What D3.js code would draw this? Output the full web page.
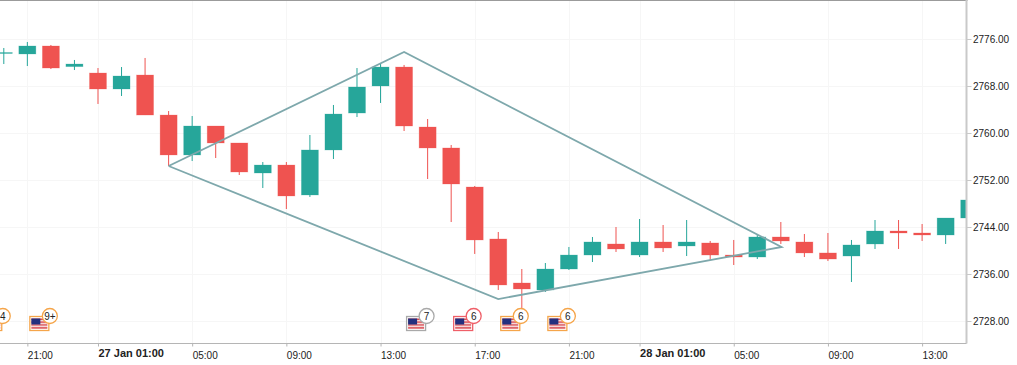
<!DOCTYPE html>
<html><head><meta charset="utf-8">
<script src="https://cdn.jsdelivr.net/npm/d3@7/dist/d3.min.js"></script>
<style>html,body{margin:0;padding:0;background:#fff;overflow:hidden}svg{display:block}text{font-family:"Liberation Sans",Arial,sans-serif}</style>
</head><body><svg id="c" width="1017" height="365"></svg>
<script>
// candle values, one per hourly bar (bar index = array position)
const opens  = [2773.6,2773.45,2774.81,2771.3,2770.21,2767.49,2769.87,2763.06,2756.26,2761.19,2758.30,2753.19,2754.55,2749.45,2757.11,2763.4,2768.0,2771.23,2761.02,2757.45,2750.81,2741.96,2734.47,2733.28,2736.85,2739.23,2741.11,2739.23,2741.45,2740.77,2741.28,2739.23,2738.89,2742.3,2741.45,2739.58,2739.06,2741.11,2743.32,2742.98,2742.64,2745.53];
const closes = [2773.7,2774.81,2771.06,2771.74,2767.49,2769.7,2763.06,2756.26,2761.19,2758.30,2753.36,2754.55,2749.28,2757.11,2763.23,2767.83,2771.23,2761.19,2757.45,2751.32,2741.79,2734.13,2733.45,2736.85,2739.23,2741.45,2740.26,2741.45,2740.43,2741.45,2739.23,2738.89,2742.3,2741.62,2739.58,2738.55,2740.94,2743.32,2742.98,2742.64,2745.53,2748.6];
const highs  = [2774.47,2775.49,2774.98,2772.43,2771.06,2771.23,2772.77,2763.74,2762.89,2761.19,2758.30,2755.06,2755.06,2759.66,2764.77,2771.06,2771.92,2771.58,2762.38,2757.96,2750.98,2743.15,2736.85,2737.87,2740.6,2742.3,2744.0,2745.36,2744.34,2745.19,2741.62,2741.79,2742.64,2744.85,2742.81,2742.98,2741.79,2745.19,2745.19,2744.51,2745.53,2748.6];
const lows   = [2771.74,2771.4,2770.89,2770.72,2764.94,2766.3,2763.06,2754.38,2755.23,2755.74,2752.85,2750.64,2747.06,2749.11,2755.57,2762.72,2765.11,2760.34,2752.17,2744.85,2739.41,2733.28,2729.87,2732.94,2736.68,2738.04,2739.75,2738.89,2739.75,2739.06,2738.38,2737.53,2738.55,2741.11,2738.89,2738.21,2734.64,2740.26,2740.26,2741.62,2741.11,2745.53];

// price and time axes
const priceTicks = [2776,2768,2760,2752,2744,2736,2728];
const timeIndex  = [1,4,8,12,16,20,24,27,31,35,39];
const timeLabels = ["21:00","27 Jan 01:00","05:00","09:00","13:00","17:00","21:00","28 Jan 01:00","05:00","09:00","13:00"];
const boldTimes  = ["27 Jan 01:00","28 Jan 01:00"];

// diamond drawing, anchored on bar index and price
const shapeIndex = [7,17,33.03,21,7];
const shapePrice = [2754.38,2773.79,2740.6,2731.74,2754.38];

// economic events
const eventIndex = [-1,1,17,19,21,23];
const eventLabel = ["4","9+","7","6","6","6"];
const eventKind  = ["mid","mid","low","high","mid","mid"];
const eventColor = {low:"#a9a9a9",mid:"#f5a54a",high:"#ef5f68"};

const UP="#26a69a", DOWN="#ef5350";
const W=1017,H=365,PW=966.5,PH=343.5;
const x=d3.scaleLinear().domain([0,41]).range([3.8,969.2]);
const y=d3.scaleLinear().domain([2728,2776]).range([321,39]);
const svg=d3.select("#c");
svg.append("defs").append("clipPath").attr("id","plot").append("rect").attr("width",PW).attr("height",PH);

// grid
const grid=svg.append("g").attr("stroke","#f6f6f6").attr("stroke-width",1);
grid.selectAll("line.h").data(priceTicks).join("line").attr("class","h")
  .attr("x1",0).attr("x2",PW).attr("y1",d=>Math.round(y(d))+.5).attr("y2",d=>Math.round(y(d))+.5);
grid.selectAll("line.v").data(timeIndex).join("line").attr("class","v")
  .attr("y1",0).attr("y2",PH).attr("x1",d=>Math.round(x(d))+.5).attr("x2",d=>Math.round(x(d))+.5);

const plot=svg.append("g").attr("clip-path","url(#plot)");

// candles
const bars=plot.selectAll("g.bar").data(opens.map((o,i)=>({i,o,c:closes[i],h:highs[i],l:lows[i]}))).join("g").attr("class","bar");
const col=d=>d.c>=d.o?UP:DOWN;
bars.append("line").attr("x1",d=>x(d.i)).attr("x2",d=>x(d.i)).attr("y1",d=>y(d.h)).attr("y2",d=>y(d.l))
  .attr("stroke",col).attr("stroke-width",1);
const bw=17;
bars.append("rect").attr("x",d=>x(d.i)-bw/2).attr("width",bw)
  .attr("y",d=>y(Math.max(d.o,d.c))).attr("height",d=>Math.max(1,Math.abs(y(d.o)-y(d.c)))).attr("fill",col)
  .attr("stroke",col).attr("stroke-opacity",.3).attr("stroke-width",.8);

// diamond
const line=d3.line().x(d=>x(d[0])).y(d=>y(d[1]));
plot.append("path").attr("d",line(shapeIndex.map((v,i)=>[v,shapePrice[i]])))
  .attr("fill","none").attr("stroke","#7ea8ac").attr("stroke-width",1.8).attr("stroke-linejoin","miter");

// event flags
const flagW=20,flagH=15,flagTop=y(2728)-5,dx=2;
const ev=plot.selectAll("g.ev").data(eventIndex.map((v,i)=>({v,t:eventLabel[i],k:eventColor[eventKind[i]]}))).join("g").attr("class","ev")
  .attr("transform",d=>`translate(${x(d.v)+dx},${flagTop})`);
ev.append("rect").attr("x",.5).attr("y",.5).attr("width",flagW-1).attr("height",flagH-1).attr("fill","#fff").attr("stroke",d=>d.k).attr("stroke-width",1.3);
const stripeRows=d3.range(7);
ev.each(function(){
  const g=d3.select(this);
  stripeRows.forEach(r=>g.append("rect").attr("x",2).attr("y",2.5+r*1.45).attr("width",16).attr("height",1.45).attr("fill",r%2?"#f4d8d8":"#d8434a"));
  g.append("rect").attr("x",2).attr("y",2.5).attr("width",9).attr("height",6).attr("fill","#23307f");
});
ev.append("circle").attr("cx",flagW+.5).attr("cy",0).attr("r",7.5).attr("fill","#fff").attr("stroke",d=>d.k).attr("stroke-width",1.3);
ev.append("text").attr("x",flagW+.5).attr("y",3.5).attr("text-anchor","middle").attr("font-size",10).attr("fill","#222").text(d=>d.t);

// frame
svg.append("line").attr("x1",0).attr("x2",PW+1).attr("y1",.5).attr("y2",.5).attr("stroke","#9b9b9b").attr("stroke-width",1);

// price axis
const ya=svg.append("g").attr("transform",`translate(${PW},0)`)
  .call(d3.axisRight(y).tickValues(priceTicks).tickFormat(d3.format(".2f")).tickSize(5).tickPadding(1));
ya.select(".domain").attr("stroke","#c9c9c9").attr("stroke-width",2).attr("d",`M0,0V${PH}`);
ya.selectAll(".tick line").attr("stroke","#c9c9c9");
ya.selectAll(".tick text").attr("font-size",10).attr("fill","#222").attr("font-family",'"Liberation Sans"').attr("x",6.5);

// time axis
const xa=svg.append("g").attr("transform",`translate(0,${PH})`)
  .call(d3.axisBottom(x).tickValues(timeIndex).tickFormat((d,i)=>timeLabels[i]).tickSize(3));
xa.select(".domain").attr("stroke","#b5b5b5").attr("stroke-width",1).attr("d",`M0,0H${PW}`);
xa.selectAll(".tick line").attr("stroke","#b5b5b5");
xa.selectAll(".tick text").attr("text-anchor","start").attr("x",0).attr("y",8).attr("font-family",'"Liberation Sans"')
  .attr("fill","#222").attr("font-size",d=>10)
  .each(function(){const s=d3.select(this);if(boldTimes.includes(s.text()))s.attr("font-size",11).attr("font-weight","bold").attr("y",6);});
</script></body></html>
